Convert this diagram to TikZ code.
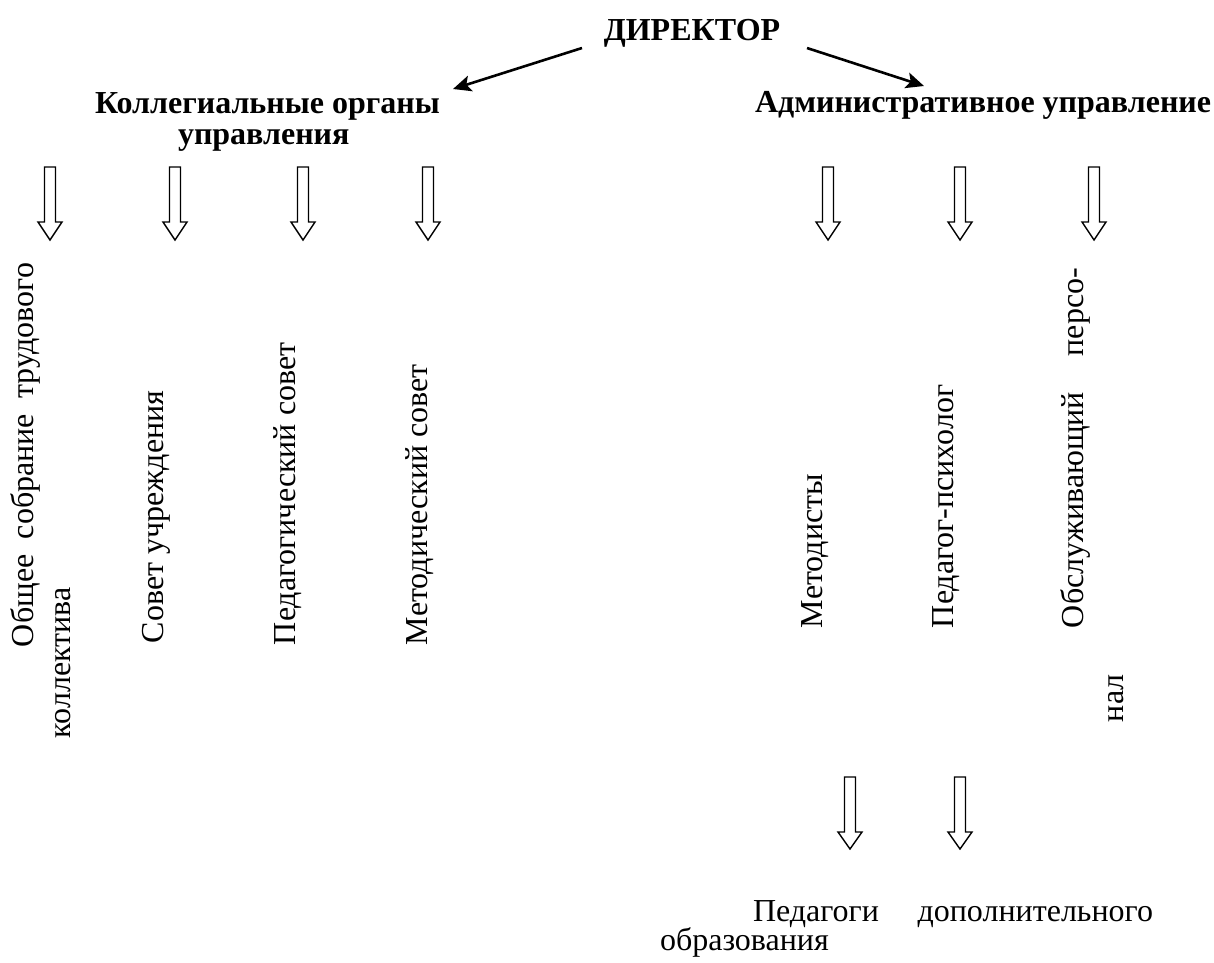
\documentclass[tikz,border=0pt]{standalone}
\usepackage{fontspec}
\setmainfont{Liberation Serif}
\usetikzlibrary{arrows.meta}
\tikzset{
  lbl/.style={inner sep=0pt, outer sep=0pt, font=\fontsize{32}{35}\selectfont},
  head/.style={lbl, font=\fontsize{32}{35}\selectfont\bfseries},
  vlbl/.style={lbl, rotate=90, anchor=base west},
  conn/.style={line width=2.6pt, -{Stealth[length=18pt,width=16pt,inset=4pt]}},
  pics/harrow/.style={code={
    \draw[line width=1.4pt, line join=miter, fill=white]
      (-5.5,0) -- (-5.5,55) -- (-12,55) -- (0,#1) -- (12,55) -- (5.5,55) -- (5.5,0) -- cycle;}}
}
\begin{document}
\begin{tikzpicture}[x=1pt,y=-1pt]
\useasboundingbox (0,0) rectangle (1214,962);
% headers
\node[head, anchor=base] (dir) at (692,40) {ДИРЕКТОР};
\node[head, anchor=base west] (kol1) at (95,113) {Коллегиальные органы};
\node[head, anchor=base west] (kol2) at (178,144) {управления};
\node[head, anchor=base west] (adm) at (755,112) {Административное управление};
\coordinate (dirL) at (582,48);
\coordinate (dirR) at (807,48);
\coordinate (kolT) at (453,89);
\coordinate (admT) at (924,86);
\draw[conn] (dirL) -- (kolT);
\draw[conn] (dirR) -- (admT);
% hollow arrows
\foreach \x in {50,175,303,428,828,960,1094}
  \pic at (\x,167) {harrow=73};
\foreach \x in {850,960}
  \pic at (\x,777) {harrow=72};
% vertical labels
\node[vlbl] (obs1) at (33,647) {\hbox to 384pt{Общее\hfill собрание\hfill трудового}};
\node[vlbl] (obs2) at (70,738) {коллектива};
\node[vlbl] (sov) at (163,643) {Совет учреждения};
\node[vlbl] (ped) at (295,645) {Педагогический совет};
\node[vlbl] (met) at (427,645) {Методический совет};
\node[vlbl] (mtd) at (822,628) {Методисты};
\node[vlbl] (psy) at (953,628) {Педагог-психолог};
\node[vlbl] (obl1) at (1083,628) {\hbox to 360pt{Обслуживающий\hfill персо-}};
\node[vlbl] (obl2) at (1123,722) {нал};
% bottom text
\node[lbl, anchor=base west] (pdo1) at (753,921) {\hbox to 400pt{Педагоги\hfill дополнительного}};
\node[lbl, anchor=base west] (pdo2) at (660,950) {образования};
\end{tikzpicture}
\end{document}
